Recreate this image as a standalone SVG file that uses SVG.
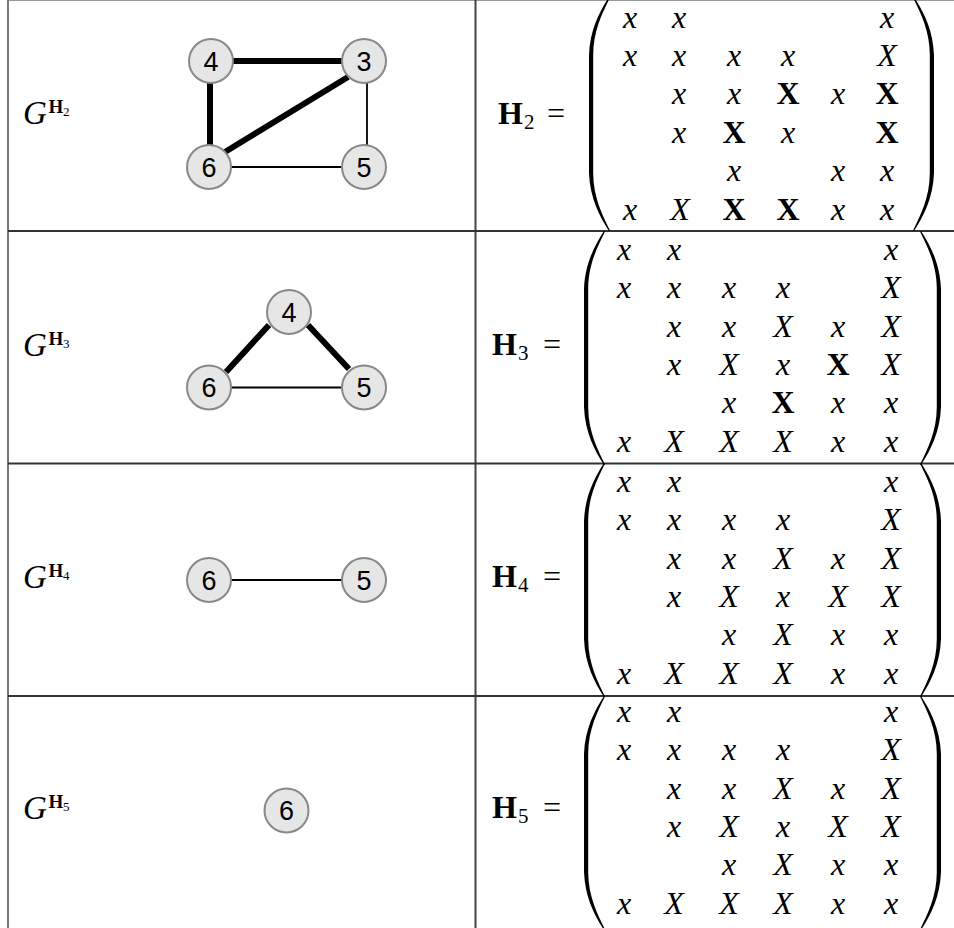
<svg xmlns="http://www.w3.org/2000/svg" xmlns:xlink="http://www.w3.org/1999/xlink" width="954" height="928" viewBox="0 0 954 928">
<style>
.mi{font-family:"Liberation Serif",serif;font-style:italic;font-size:32px;text-anchor:middle;fill:#000}
.mb{font-family:"Liberation Serif",serif;font-weight:bold;font-size:32px;text-anchor:middle;fill:#000}
.g{font-family:"Liberation Serif",serif;font-style:italic;font-size:33px;fill:#000}
.sup{font-family:"Liberation Serif",serif;font-weight:bold;font-size:19px;fill:#000}
.sub{font-family:"Liberation Serif",serif;font-size:13px;fill:#000}
.hb{font-family:"Liberation Serif",serif;font-weight:bold;font-size:32px;fill:#000}
.hs{font-family:"Liberation Serif",serif;font-size:21px;fill:#000}
.eq{font-family:"Liberation Serif",serif;font-size:32px;text-anchor:middle;fill:#000}
.nc{fill:#e6e6e6;stroke:#888;stroke-width:2}
.nt{font-family:"Liberation Sans",Arial,sans-serif;font-size:27px;text-anchor:middle;fill:#000}
.thick{stroke:#000;stroke-width:6;fill:none}
.thin{stroke:#000;stroke-width:1.8;fill:none}
.rule{stroke:#333;stroke-width:2}
.paren{fill:#000}
</style>
<defs>
<path id="lp" d="M 20,0 C 11,14 1,32 0,58 L 0,176 C 1,202 11,220 20,234 L 21,233.5 C 14,219 4.2,201 4.2,176 L 4.2,58 C 4.2,33 14,15 21,0.5 Z"/>
</defs>
<rect x="0" y="0" width="954" height="928" fill="#fff"/>
<g id="table">
<line x1="8" y1="0.5" x2="954" y2="0.5" stroke="#999" stroke-width="1"/>
<line x1="8" y1="0" x2="8" y2="928" stroke="#777" stroke-width="2"/>
<line x1="475.5" y1="0" x2="475.5" y2="928" stroke="#444" stroke-width="2"/>
<line class="rule" x1="8" y1="231" x2="954" y2="231"/>
<line class="rule" x1="8" y1="463.5" x2="954" y2="463.5"/>
<line class="rule" x1="8" y1="696" x2="954" y2="696"/>
</g>
<g id="labels">
<text class="g" x="23" y="124">G</text><text class="sup" x="48.5" y="113">H</text><text class="sub" x="63" y="116">2</text>
<text class="g" x="23" y="356">G</text><text class="sup" x="48.5" y="345">H</text><text class="sub" x="63" y="348">3</text>
<text class="g" x="23" y="588">G</text><text class="sup" x="48.5" y="577">H</text><text class="sub" x="63" y="580">4</text>
<text class="g" x="23" y="819">G</text><text class="sup" x="48.5" y="808">H</text><text class="sub" x="63" y="811">5</text>
</g>
<g id="connectors">
<line class="thick" x1="230" y1="61" x2="345" y2="61"/>
<line class="thick" x1="210" y1="80" x2="210" y2="148"/>
<line class="thick" x1="225" y1="152" x2="348" y2="77"/>
<line class="thin" x1="367" y1="80" x2="367" y2="148"/>
<line class="thin" x1="228" y1="167" x2="345" y2="167"/>
<line class="thick" x1="226" y1="372" x2="269" y2="325"/>
<line class="thick" x1="308" y1="325" x2="349" y2="369"/>
<line class="thin" x1="228" y1="387.5" x2="345" y2="387.5"/>
<line class="thin" x1="228" y1="580" x2="345" y2="580"/>
</g>
<g id="r1n4"><circle class="nc" cx="211" cy="61" r="22"/><text class="nt" x="211" y="70.5">4</text></g>
<g id="r1n3"><circle class="nc" cx="364" cy="61" r="22"/><text class="nt" x="364" y="70.5">3</text></g>
<g id="r1n6"><circle class="nc" cx="209" cy="167" r="22"/><text class="nt" x="209" y="176.5">6</text></g>
<g id="r1n5"><circle class="nc" cx="364" cy="167" r="22"/><text class="nt" x="364" y="176.5">5</text></g>
<g id="r2n4"><circle class="nc" cx="289" cy="312" r="22"/><text class="nt" x="289" y="321.5">4</text></g>
<g id="r2n6"><circle class="nc" cx="209" cy="387.5" r="22"/><text class="nt" x="209" y="397">6</text></g>
<g id="r2n5"><circle class="nc" cx="364" cy="387.5" r="22"/><text class="nt" x="364" y="397">5</text></g>
<g id="r3n6"><circle class="nc" cx="209" cy="580" r="22"/><text class="nt" x="209" y="589.5">6</text></g>
<g id="r3n5"><circle class="nc" cx="364" cy="580" r="22"/><text class="nt" x="364" y="589.5">5</text></g>
<g id="r4n6"><circle class="nc" cx="286.5" cy="810.5" r="22"/><text class="nt" x="286.5" y="820">6</text></g>

<g id="H2">
<text class="hb" x="498" y="124">H</text><text class="hs" x="524" y="129">2</text><text class="eq" x="556" y="124">=</text>
<use href="#lp" xlink:href="#lp" class="paren" x="589" y="-3"/>
<use href="#lp" xlink:href="#lp" class="paren" transform="translate(934,-3) scale(-1,1)"/>
<text class="mi" x="630" y="28">x</text><text class="mi" x="679" y="28">x</text><text class="mi" x="887" y="28">x</text>
<text class="mi" x="630" y="65.5">x</text><text class="mi" x="679" y="65.5">x</text><text class="mi" x="734" y="65.5">x</text><text class="mi" x="788" y="65.5">x</text><text class="mi" x="887" y="65.5">X</text>
<text class="mi" x="679" y="104">x</text><text class="mi" x="734" y="104">x</text><text class="mb" x="788" y="104">X</text><text class="mi" x="838" y="104">x</text><text class="mb" x="887" y="104">X</text>
<text class="mi" x="679" y="142.5">x</text><text class="mb" x="734" y="142.5">X</text><text class="mi" x="788" y="142.5">x</text><text class="mb" x="887" y="142.5">X</text>
<text class="mi" x="734" y="181">x</text><text class="mi" x="838" y="181">x</text><text class="mi" x="887" y="181">x</text>
<text class="mi" x="630" y="219.5">x</text><text class="mi" x="680" y="219.5">X</text><text class="mb" x="734" y="219.5">X</text><text class="mb" x="788" y="219.5">X</text><text class="mi" x="838" y="219.5">x</text><text class="mi" x="887" y="219.5">x</text>
</g>

<g id="H3">
<text class="hb" x="492" y="355">H</text><text class="hs" x="518" y="360">3</text><text class="eq" x="552" y="355">=</text>
<use href="#lp" xlink:href="#lp" class="paren" x="584" y="231"/>
<use href="#lp" xlink:href="#lp" class="paren" transform="translate(941,231) scale(-1,1)"/>
<text class="mi" x="624" y="260">x</text><text class="mi" x="674" y="260">x</text><text class="mi" x="891" y="260">x</text>
<text class="mi" x="624" y="298.3">x</text><text class="mi" x="674" y="298.3">x</text><text class="mi" x="729" y="298.3">x</text><text class="mi" x="783" y="298.3">x</text><text class="mi" x="891" y="298.3">X</text>
<text class="mi" x="674" y="336.6">x</text><text class="mi" x="729" y="336.6">x</text><text class="mi" x="783" y="336.6">X</text><text class="mi" x="838" y="336.6">x</text><text class="mi" x="891" y="336.6">X</text>
<text class="mi" x="674" y="374.9">x</text><text class="mi" x="729" y="374.9">X</text><text class="mi" x="783" y="374.9">x</text><text class="mb" x="838" y="374.9">X</text><text class="mi" x="891" y="374.9">X</text>
<text class="mi" x="729" y="413.2">x</text><text class="mb" x="783" y="413.2">X</text><text class="mi" x="838" y="413.2">x</text><text class="mi" x="891" y="413.2">x</text>
<text class="mi" x="624" y="451.5">x</text><text class="mi" x="674" y="451.5">X</text><text class="mi" x="729" y="451.5">X</text><text class="mi" x="783" y="451.5">X</text><text class="mi" x="838" y="451.5">x</text><text class="mi" x="891" y="451.5">x</text>
</g>

<g id="H4">
<text class="hb" x="492" y="587">H</text><text class="hs" x="518" y="592">4</text><text class="eq" x="552" y="587">=</text>
<use href="#lp" xlink:href="#lp" class="paren" x="584" y="463"/>
<use href="#lp" xlink:href="#lp" class="paren" transform="translate(941,463) scale(-1,1)"/>
<text class="mi" x="624" y="492">x</text><text class="mi" x="674" y="492">x</text><text class="mi" x="891" y="492">x</text>
<text class="mi" x="624" y="530.3">x</text><text class="mi" x="674" y="530.3">x</text><text class="mi" x="729" y="530.3">x</text><text class="mi" x="783" y="530.3">x</text><text class="mi" x="891" y="530.3">X</text>
<text class="mi" x="674" y="568.6">x</text><text class="mi" x="729" y="568.6">x</text><text class="mi" x="783" y="568.6">X</text><text class="mi" x="838" y="568.6">x</text><text class="mi" x="891" y="568.6">X</text>
<text class="mi" x="674" y="606.9">x</text><text class="mi" x="729" y="606.9">X</text><text class="mi" x="783" y="606.9">x</text><text class="mi" x="838" y="606.9">X</text><text class="mi" x="891" y="606.9">X</text>
<text class="mi" x="729" y="645.2">x</text><text class="mi" x="783" y="645.2">X</text><text class="mi" x="838" y="645.2">x</text><text class="mi" x="891" y="645.2">x</text>
<text class="mi" x="624" y="683.5">x</text><text class="mi" x="674" y="683.5">X</text><text class="mi" x="729" y="683.5">X</text><text class="mi" x="783" y="683.5">X</text><text class="mi" x="838" y="683.5">x</text><text class="mi" x="891" y="683.5">x</text>
</g>

<g id="H5">
<text class="hb" x="492" y="818">H</text><text class="hs" x="518" y="823">5</text><text class="eq" x="552" y="818">=</text>
<use href="#lp" xlink:href="#lp" class="paren" x="584" y="696"/>
<use href="#lp" xlink:href="#lp" class="paren" transform="translate(941,696) scale(-1,1)"/>
<text class="mi" x="624" y="722">x</text><text class="mi" x="674" y="722">x</text><text class="mi" x="891" y="722">x</text>
<text class="mi" x="624" y="760.3">x</text><text class="mi" x="674" y="760.3">x</text><text class="mi" x="729" y="760.3">x</text><text class="mi" x="783" y="760.3">x</text><text class="mi" x="891" y="760.3">X</text>
<text class="mi" x="674" y="798.6">x</text><text class="mi" x="729" y="798.6">x</text><text class="mi" x="783" y="798.6">X</text><text class="mi" x="838" y="798.6">x</text><text class="mi" x="891" y="798.6">X</text>
<text class="mi" x="674" y="836.9">x</text><text class="mi" x="729" y="836.9">X</text><text class="mi" x="783" y="836.9">x</text><text class="mi" x="838" y="836.9">X</text><text class="mi" x="891" y="836.9">X</text>
<text class="mi" x="729" y="875.2">x</text><text class="mi" x="783" y="875.2">X</text><text class="mi" x="838" y="875.2">x</text><text class="mi" x="891" y="875.2">x</text>
<text class="mi" x="624" y="913.5">x</text><text class="mi" x="674" y="913.5">X</text><text class="mi" x="729" y="913.5">X</text><text class="mi" x="783" y="913.5">X</text><text class="mi" x="838" y="913.5">x</text><text class="mi" x="891" y="913.5">x</text>
</g>
</svg>
